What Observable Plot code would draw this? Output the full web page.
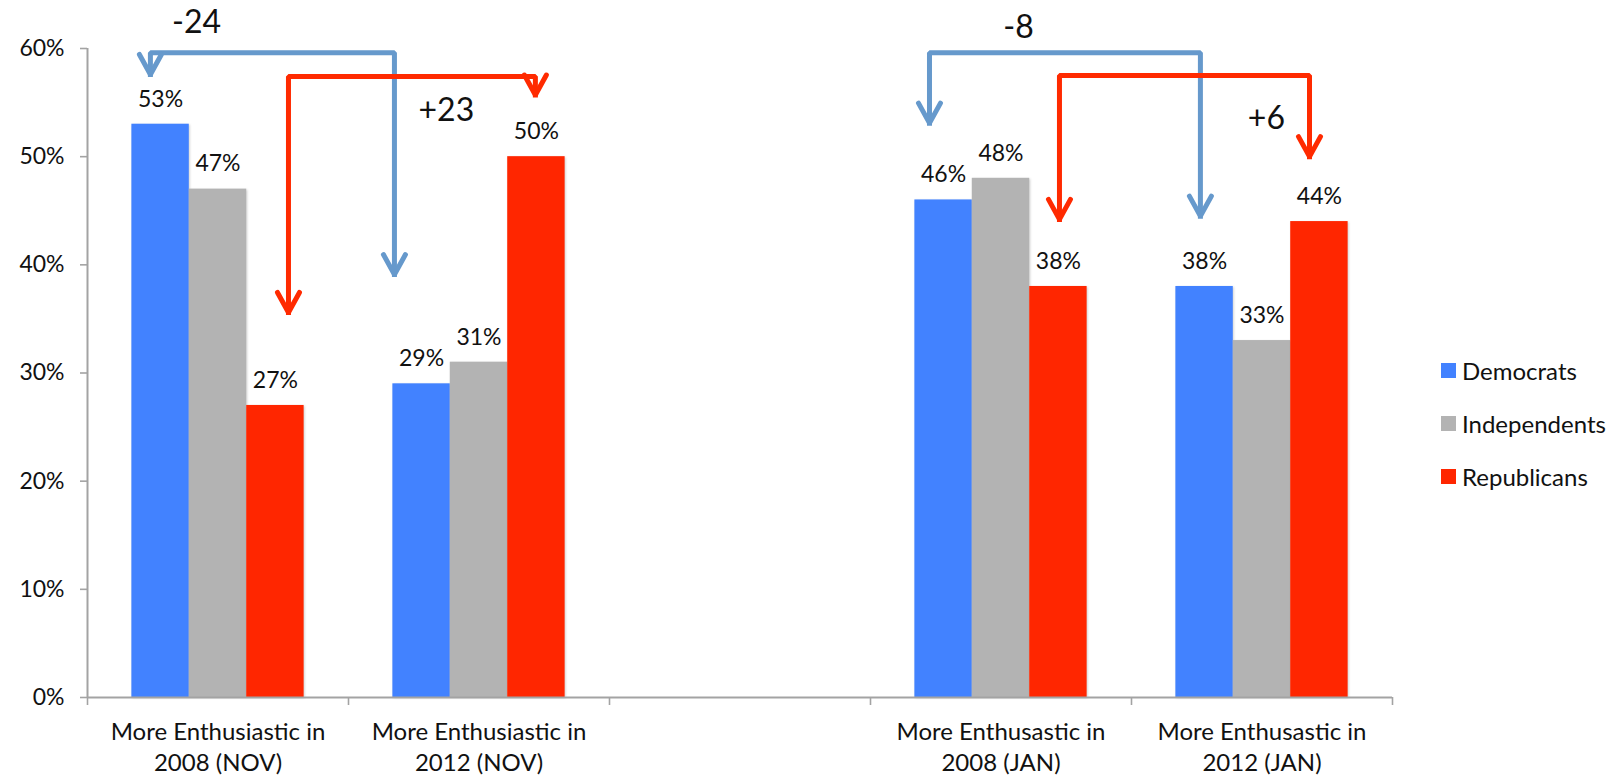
<!DOCTYPE html>
<html>
<head>
<meta charset="utf-8">
<script src="https://cdn.jsdelivr.net/npm/d3@7"></script>
<script src="https://cdn.jsdelivr.net/npm/@observablehq/plot@0.6"></script>
<style>
  html, body { margin: 0; padding: 0; background: #fff; }
  #wrap { position: relative; width: 1622px; height: 778px; font-family: Lato, sans-serif; }
  #wrap svg { overflow: visible; }
  #wrap svg text { font-family: Lato, sans-serif; }
  g[aria-label="y-axis"] .tick line, g[aria-label="x-axis"] .tick line,
  g[aria-label="y-axis tick"] path, g[aria-label="x-axis tick"] path { stroke: #A3A3A3; stroke-width: 1.6px; }
  g[aria-label="y-axis"] .domain, g[aria-label="x-axis"] .domain { display: none; }
  g[aria-label="rect"] rect { filter: drop-shadow(1.5px 1px 1px rgba(0,0,0,0.18)); }
  #legend { position: absolute; left: 1441px; top: 344px; font-size: 24px; color: #111; }
  #legend .item { display: flex; align-items: center; height: 53px; }
  #legend .sw { width: 15px; height: 15px; margin-right: 6px; }
</style>
</head>
<body>
<div id="wrap"></div>
<script>
// ---- data ----
const categories = [
  "More Enthusiastic in\n2008 (NOV)",
  "More Enthusiastic in\n2012 (NOV)",
  "",
  "More Enthusastic in\n2008 (JAN)",
  "More Enthusastic in\n2012 (JAN)"
];
const series = ["Democrats", "Independents", "Republicans"];
const democrats    = [53, 29, null, 46, 38];
const independents = [47, 31, null, 48, 33];
const republicans  = [27, 50, null, 38, 44];
const yTicks = [0, 10, 20, 30, 40, 50, 60];
const slotTicks = [0, 1, 2, 3, 4, 5];

// change annotations (slot units on x, percent on y)
const changeLabels = ["-24", "+23", "-8", "+6"];
const changeParty  = ["Democrats", "Republicans", "Democrats", "Republicans"];
const changeLabelX = [0.418, 1.375, 3.567, 4.517];
const changeLabelY = [62.4, 54.2, 61.9, 53.5];
const bracketLeftX  = [0.241, 0.770, 3.226, 3.724];
const bracketRightX = [1.176, 1.716, 4.264, 4.682];
const bracketTopY   = [59.6, 57.4, 59.6, 57.5];
const bracketLeftTip  = [57.6, 35.6, 53.1, 44.2];
const bracketRightTip = [39.1, 55.7, 44.5, 50.0];

// ---- styles ----
const barColors = ["#4282FF", "#B3B3B3", "#FF2600"];
const arrowColors = {Democrats: "#6699CC", Republicans: "#FF2A00"};
const W = 1622, H = 778;
const M = {top: 48, right: 230, bottom: 81, left: 87};
const slotPad = 0.17, barW = (1 - 2 * slotPad) / 3;
const pxPerSlot = (W - M.left - M.right) / 5;
const pxPerPct = (H - M.top - M.bottom) / 60;

const valueBySeries = {Democrats: democrats, Independents: independents, Republicans: republicans};
const bars = [];
categories.forEach((c, i) => series.forEach((s, k) => {
  const v = valueBySeries[s][i];
  if (v != null) bars.push({slot: i, series: s, k, value: v});
}));
const catLabels = categories.map((c, i) => ({c, i})).filter(d => d.c);

const bracketMarks = changeLabels.flatMap((lab, j) => {
  const col = arrowColors[changeParty[j]];
  const pts = [
    [bracketLeftX[j], bracketLeftTip[j]],
    [bracketLeftX[j], bracketTopY[j]],
    [bracketRightX[j], bracketTopY[j]],
    [bracketRightX[j], bracketRightTip[j]]
  ];
  const ax = 11 / pxPerSlot, ay = 20 / pxPerPct;
  const heads = [[bracketLeftX[j], bracketLeftTip[j]], [bracketRightX[j], bracketRightTip[j]]]
    .flatMap(([x, y], e) => [[x - ax, y + ay], [x, y], [x + ax, y + ay]].map(p => ({id: e, x: p[0], y: p[1]})));
  return [
    Plot.line(pts, {x: d => d[0], y: d => d[1], stroke: col, strokeWidth: 5, strokeLinejoin: "miter", strokeLinecap: "square"}),
    Plot.line(heads, {x: "x", y: "y", z: "id", stroke: col, strokeWidth: 5, strokeLinejoin: "miter", strokeLinecap: "round"})
  ];
});

const chart = Plot.plot({
  width: W,
  height: H,
  marginTop: M.top, marginRight: M.right, marginBottom: M.bottom, marginLeft: M.left,
  style: {fontFamily: "Lato, sans-serif", fontSize: "23px", color: "#111", background: "#fff"},
  x: {domain: [0, 5], ticks: slotTicks, tickFormat: () => "", tickSize: 8, label: null},
  y: {domain: [0, 60], ticks: yTicks, tickFormat: d => d + "%", tickSize: 7, tickPadding: 16, label: null},
  color: {domain: series, range: barColors},
  marks: [
    Plot.rectY(bars, {
      x1: d => d.slot + slotPad + d.k * barW,
      x2: d => d.slot + slotPad + (d.k + 1) * barW,
      y: "value", fill: "series"
    }),
    Plot.ruleY([0], {stroke: "#A3A3A3", strokeWidth: 2}),
    Plot.ruleX([0], {y1: 0, y2: 60, stroke: "#A3A3A3", strokeWidth: 2}),
    Plot.text(bars, {
      x: d => d.slot + slotPad + (d.k + 0.5) * barW,
      y: "value", text: d => d.value + "%", dy: -25, fontSize: 23, fill: "#111"
    }),
    Plot.text(catLabels, {x: d => d.i + 0.5, y: 0, text: "c", lineAnchor: "top", dy: 21, fontSize: 24, lineHeight: 1.29, fill: "#111"}),
    ...bracketMarks,
    Plot.text(changeLabels.map((t, j) => ({t, x: changeLabelX[j], y: changeLabelY[j]})),
      {x: "x", y: "y", text: "t", fontSize: 32, fill: "#111"})
  ]
});

const wrap = document.getElementById("wrap");
wrap.appendChild(chart);

// legend (HTML, positioned to the right of the plot)
const cs = chart.scale("color");
const legend = document.createElement("div");
legend.id = "legend";
series.forEach((s, i) => {
  const item = document.createElement("div");
  item.className = "item";
  const sw = document.createElement("span");
  sw.className = "sw";
  sw.style.background = cs.range[i];
  const lab = document.createElement("span");
  lab.textContent = s;
  item.appendChild(sw); item.appendChild(lab);
  legend.appendChild(item);
});
wrap.appendChild(legend);
</script>
</body>
</html>
